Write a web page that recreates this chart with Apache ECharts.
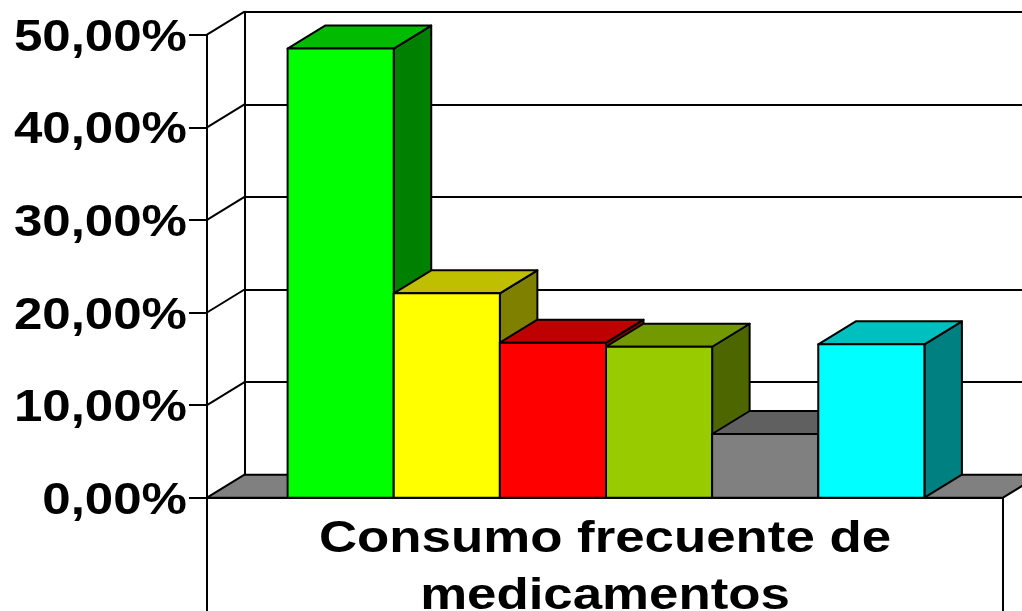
<!DOCTYPE html>
<html>
<head>
<meta charset="utf-8">
<style>html,body{margin:0;padding:0;background:#fff}#main{width:1022px;height:611px}</style>
<script src="https://cdn.jsdelivr.net/npm/echarts@6/dist/echarts.min.js"></script>
</head>
<body>
<div id="main"></div>
<script>
const categories = ['Consumo frecuente de\nmedicamentos'];
const values = [48.5, 22.07, 16.74, 16.3, 6.88, 16.56];
const ticks = [0, 10, 20, 30, 40, 50];
const tickLabels = ['0,00%', '10,00%', '20,00%', '30,00%', '40,00%', '50,00%'];
const frontColors = ['#00ff00', '#ffff00', '#ff0000', '#99cc00', '#808080', '#00ffff'];
const topColors = ['#00bb00', '#bfbf00', '#bf0000', '#739900', '#606060', '#00bfbf'];
const sideColors = ['#008000', '#808000', '#800000', '#4d6600', '#404040', '#008080'];

const dx = 37.5, dy = -23;      // depth of the 3d box
const barShare = 1 / 7.5;       // 6 bars + gap of 150%
const barNudge = 1;
const stroke = { stroke: '#000', lineWidth: 2, lineJoin: 'round' };
const textFont = 'bold 44px "Liberation Sans", Arial, sans-serif';

const poly = (points, fill) => ({
  type: 'polygon',
  shape: { points },
  style: { fill, ...stroke }
});
const line = (a, b) => ({
  type: 'line',
  shape: { x1: a[0], y1: a[1], x2: b[0], y2: b[1] },
  style: { ...stroke }
});

const chart = echarts.init(document.getElementById('main'));
chart.setOption({
  animation: false,
  backgroundColor: '#fff',
  grid: [
    { left: 207, top: 34.7, width: 796, height: 463 },
    { left: 207 + dx, top: 34.7 + dy, width: 796, height: 463 }
  ],
  xAxis: [
    {
      type: 'category', gridIndex: 0, data: categories,
      axisLine: { lineStyle: { color: '#000', width: 2 } },
      axisTick: { show: false }, axisLabel: { show: false }
    },
    {
      type: 'category', gridIndex: 1, data: categories,
      axisLine: { show: false }, axisTick: { show: false }, axisLabel: { show: false }
    }
  ],
  yAxis: [
    {
      type: 'value', gridIndex: 0, min: 0, max: 50, interval: 10,
      axisLine: { show: true, lineStyle: { color: '#000', width: 2 } },
      axisTick: { show: true, length: 18, lineStyle: { color: '#000', width: 2 } },
      axisLabel: { show: false },
      splitLine: { show: false }
    },
    {
      type: 'value', gridIndex: 1, min: 0, max: 50, interval: 10,
      axisLine: { show: true, lineStyle: { color: '#000', width: 2 } },
      axisTick: { show: false },
      axisLabel: { show: false },
      splitLine: { show: true, lineStyle: { color: '#000', width: 2 } }
    }
  ],
  series: [
    {
      // floor and the box under the axis
      type: 'custom', xAxisIndex: 0, yAxisIndex: 0, z: 2, silent: true,
      data: [[0, 0]],
      renderItem(params, api) {
        const c = api.coord([0, 0]);
        const band = api.size([1, 0])[0];
        const l = c[0] - band / 2, r = c[0] + band / 2, y = c[1];
        return {
          type: 'group',
          children: [
            poly([[l, y], [l + dx, y + dy], [r + dx, y + dy], [r, y]], '#808080'),
            line([l, y], [l, api.getHeight() + 5]),
            line([r, y], [r, api.getHeight() + 5])
          ]
        };
      }
    },
    {
      // side wall lines
      type: 'custom', xAxisIndex: 0, yAxisIndex: 0, z: 2, silent: true,
      data: ticks.slice(1).map(t => [0, t]),
      renderItem(params, api) {
        const c = api.coord([0, api.value(1)]);
        const l = c[0] - api.size([1, 0])[0] / 2;
        return line([l, c[1]], [l + dx, c[1] + dy]);
      }
    },
    {
      type: 'custom', xAxisIndex: 0, yAxisIndex: 0, z: 3, silent: true,
      data: values.map((v, i) => [0, v, i]),
      renderItem(params, api) {
        const i = api.value(2);
        const c = api.coord([0, 0]);
        const w = api.size([1, 0])[0] * barShare;
        const x0 = c[0] + barNudge + (i - 3) * w, x1 = x0 + w;
        const y0 = c[1], y1 = api.coord([0, api.value(1)])[1];
        return {
          type: 'group',
          children: [
            poly([[x1, y0], [x1 + dx, y0 + dy], [x1 + dx, y1 + dy], [x1, y1]], sideColors[i]),
            poly([[x0, y1], [x0 + dx, y1 + dy], [x1 + dx, y1 + dy], [x1, y1]], topColors[i]),
            poly([[x0, y0], [x0, y1], [x1, y1], [x1, y0]], frontColors[i])
          ]
        };
      }
    },
    {
      // y labels, stretched wide like the original
      type: 'custom', xAxisIndex: 0, yAxisIndex: 0, z: 4, silent: true,
      data: ticks.map((t, i) => [0, t, i]),
      renderItem(params, api) {
        const c = api.coord([0, api.value(1)]);
        const l = c[0] - api.size([1, 0])[0] / 2;
        return {
          type: 'text', x: l - 20, y: c[1] + 4, scaleX: 1.16,
          style: {
            text: tickLabels[api.value(2)], font: textFont, fill: '#000',
            align: 'right', verticalAlign: 'middle'
          }
        };
      }
    },
    {
      // category label
      type: 'custom', xAxisIndex: 0, yAxisIndex: 0, z: 4, silent: true,
      data: [[0, 0]],
      renderItem(params, api) {
        const c = api.coord([0, 0]);
        return {
          type: 'text', x: c[0], y: c[1] + 71, scaleX: 1.2,
          style: {
            text: categories[0], font: textFont, lineHeight: 57, fill: '#000',
            align: 'center', verticalAlign: 'middle'
          }
        };
      }
    }
  ]
});
</script>
</body>
</html>
